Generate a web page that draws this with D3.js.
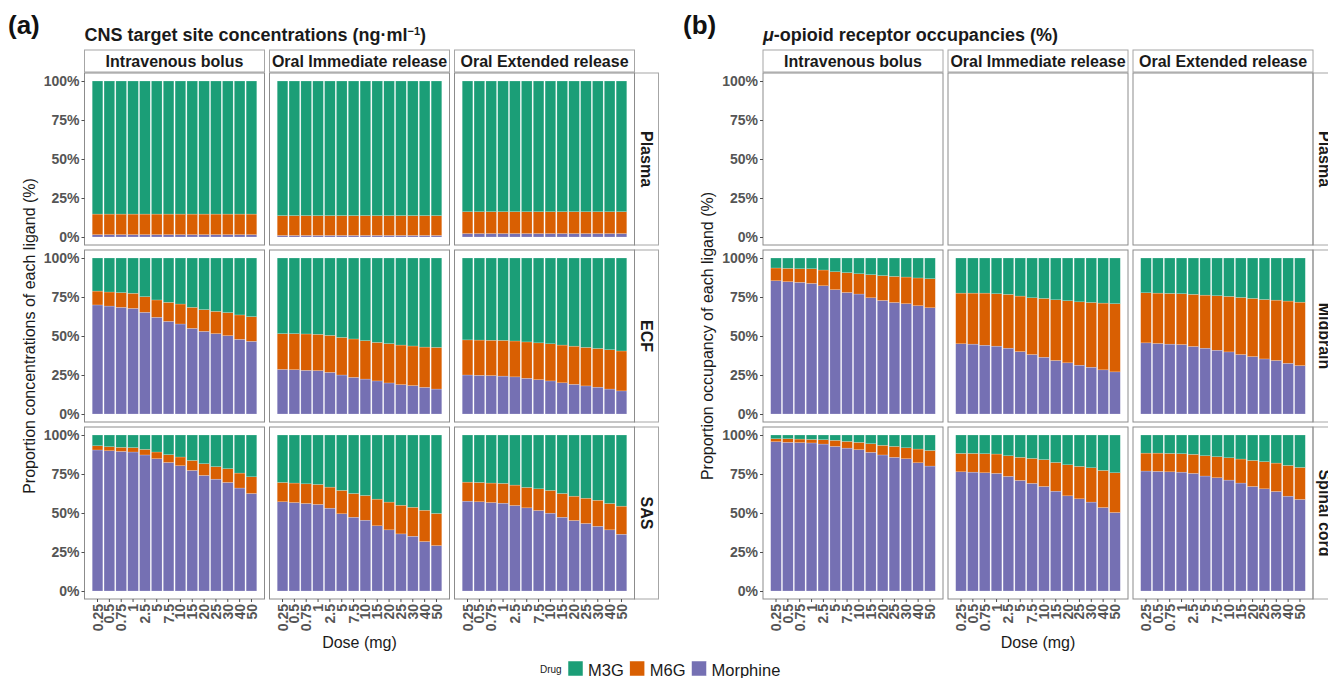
<!DOCTYPE html>
<html>
<head>
<meta charset="utf-8">
<script src="https://cdn.jsdelivr.net/npm/d3@7"></script>
<style>
  body { margin: 0; background: #fff; }
  text { font-family: "Liberation Sans", Arial, Helvetica, sans-serif; }
</style>
</head>
<body>
<svg id="chart" width="1328" height="678"></svg>
<script>
// Categories
const doses = ["0.25", "0.5", "0.75", "1", "2.5", "5", "7.5", "10", "15", "20", "25", "30", "40", "50"];
const routes = ["Intravenous bolus", "Oral Immediate release", "Oral Extended release"];
const drugs = ["M3G", "M6G", "Morphine"];
const drugColors = ["#1b9e77", "#d95f02", "#7570b3"];
const sitesA = ["Plasma", "ECF", "SAS"];
const sitesB = ["Plasma", "Midbrain", "Spinal cord"];
const yTicks = [0, 0.25, 0.5, 0.75, 1];

// (a) CNS target site concentrations: share of Morphine and M6G (%), M3G is the rest
const plasmaIvMorphine = [1.5, 1.5, 1.5, 1.5, 1.5, 1.5, 1.5, 1.5, 1.5, 1.5, 1.5, 1.5, 1.5, 1.5];
const plasmaIvM6G      = [13.2, 13.2, 13.2, 13.2, 13.2, 13.2, 13.2, 13.2, 13.2, 13.2, 13.2, 13.2, 13.2, 13.2];
const plasmaIrMorphine = [1.0, 1.0, 1.0, 1.0, 1.0, 1.0, 1.0, 1.0, 1.0, 1.0, 1.0, 1.0, 1.0, 1.0];
const plasmaIrM6G      = [12.7, 12.7, 12.7, 12.7, 12.7, 12.7, 12.7, 12.7, 12.7, 12.7, 12.7, 12.7, 12.7, 12.7];
const plasmaErMorphine = [2.2, 2.2, 2.2, 2.2, 2.2, 2.2, 2.2, 2.2, 2.2, 2.2, 2.2, 2.2, 2.2, 2.2];
const plasmaErM6G      = [14.0, 14.0, 14.0, 14.0, 14.0, 14.0, 14.0, 14.0, 14.0, 14.0, 14.0, 14.0, 14.0, 14.0];

const ecfIvMorphine = [69.9, 69.2, 68.4, 67.7, 65.2, 62.0, 59.4, 57.7, 54.9, 53.0, 51.5, 50.2, 47.9, 46.6];
const ecfIvM6G      = [8.9, 9.0, 9.4, 9.7, 10.0, 11.1, 12.2, 12.8, 13.5, 13.9, 14.3, 14.8, 15.6, 15.8];
const ecfIrMorphine = [28.6, 28.4, 28.0, 27.8, 26.7, 25.0, 23.5, 22.4, 21.2, 19.9, 18.8, 18.2, 17.1, 16.0];
const ecfIrM6G      = [22.9, 23.1, 23.3, 23.3, 23.7, 24.1, 24.6, 24.6, 24.7, 25.2, 25.4, 25.4, 25.8, 26.7];
const ecfErMorphine = [25.0, 24.8, 24.6, 24.3, 23.8, 22.9, 22.0, 21.2, 20.0, 19.0, 18.0, 17.2, 16.0, 14.8];
const ecfErM6G      = [22.5, 22.6, 22.7, 22.9, 23.0, 23.3, 23.6, 23.8, 24.2, 24.5, 24.7, 24.8, 25.2, 25.6];

const sasIvMorphine = [90.4, 89.9, 89.5, 89.1, 87.2, 84.8, 82.4, 80.3, 77.3, 74.1, 71.7, 69.6, 66.0, 62.5];
const sasIvM6G      = [2.7, 2.6, 2.6, 2.8, 3.6, 4.3, 5.0, 5.6, 6.4, 7.5, 8.0, 8.8, 9.6, 10.7];
const sasIrMorphine = [57.2, 56.7, 56.1, 55.5, 53.1, 49.5, 47.3, 45.4, 41.8, 39.2, 36.6, 35.1, 31.7, 29.1];
const sasIrM6G      = [12.4, 12.5, 12.6, 12.8, 13.5, 15.0, 15.2, 15.8, 17.1, 17.8, 18.4, 18.6, 20.1, 20.6];
const sasErMorphine = [57.6, 57.2, 56.7, 56.3, 54.8, 53.3, 51.6, 49.9, 47.3, 45.2, 43.3, 41.5, 39.2, 36.4];
const sasErM6G      = [12.2, 12.4, 12.5, 12.7, 13.1, 13.1, 13.9, 14.6, 15.2, 15.6, 16.2, 16.7, 16.9, 18.0];

// (b) mu-opioid receptor occupancies (no plasma data)
const midIvMorphine = [85.4, 84.8, 84.4, 83.7, 82.2, 79.7, 77.9, 76.9, 74.5, 72.8, 71.5, 70.7, 69.4, 68.1];
const midIvM6G      = [8.2, 8.6, 8.7, 9.4, 10.1, 11.5, 12.7, 13.0, 14.8, 15.9, 16.7, 17.1, 17.8, 18.6];
const midIrMorphine = [45.0, 44.8, 44.1, 43.5, 42.2, 40.0, 38.1, 36.4, 34.3, 32.8, 31.3, 30.0, 28.3, 27.0];
const midIrM6G      = [32.5, 32.7, 33.4, 33.6, 34.5, 35.6, 36.4, 37.7, 38.9, 39.8, 40.6, 41.5, 42.8, 43.7];
const midErMorphine = [45.6, 45.2, 44.8, 44.5, 43.3, 42.2, 40.9, 39.8, 38.1, 36.8, 35.3, 34.3, 32.5, 31.0];
const midErM6G      = [32.1, 32.3, 32.5, 32.6, 33.4, 34.0, 34.9, 35.6, 36.6, 37.3, 38.1, 38.7, 39.9, 40.7];

const spinIvMorphine = [95.7, 95.3, 95.1, 94.9, 94.2, 92.7, 91.6, 90.6, 88.9, 87.2, 85.7, 84.8, 82.2, 80.1];
const spinIvM6G      = [1.9, 2.3, 2.3, 2.3, 2.8, 3.9, 4.3, 4.7, 5.5, 6.2, 7.0, 7.0, 8.8, 10.0];
const spinIrMorphine = [76.4, 76.2, 75.8, 75.4, 73.5, 70.9, 69.0, 67.0, 64.0, 61.0, 59.1, 57.0, 53.5, 50.3];
const spinIrM6G      = [11.8, 12.0, 12.2, 12.4, 13.2, 14.8, 16.0, 17.2, 18.4, 19.9, 20.8, 22.0, 23.8, 25.5];
const spinErMorphine = [76.9, 76.7, 76.4, 76.2, 75.4, 73.7, 72.6, 71.1, 69.2, 67.0, 65.5, 63.8, 60.8, 58.7];
const spinErM6G      = [11.5, 11.7, 11.8, 11.8, 12.2, 13.0, 13.5, 14.3, 15.4, 16.7, 17.4, 18.2, 19.7, 20.5];

// facets[row][col] = [morphine, m6g] or null
const facetsA = [
  [[plasmaIvMorphine, plasmaIvM6G], [plasmaIrMorphine, plasmaIrM6G], [plasmaErMorphine, plasmaErM6G]],
  [[ecfIvMorphine, ecfIvM6G], [ecfIrMorphine, ecfIrM6G], [ecfErMorphine, ecfErM6G]],
  [[sasIvMorphine, sasIvM6G], [sasIrMorphine, sasIrM6G], [sasErMorphine, sasErM6G]]
];
const facetsB = [
  [null, null, null],
  [[midIvMorphine, midIvM6G], [midIrMorphine, midIrM6G], [midErMorphine, midErM6G]],
  [[spinIvMorphine, spinIvM6G], [spinIrMorphine, spinIrM6G], [spinErMorphine, spinErM6G]]
];

// Layout
const rowTop = [73, 250, 427];
const panelH = 172;
const colW = 180;
const stripTop = 50, stripH = 22, rowStripW = 24;
const panelStroke = "#8c8c8c";
const stripStroke = "#a6a6a6";

const svg = d3.select("#chart");
const color = d3.scaleOrdinal().domain(drugs).range(drugColors);
const stack = d3.stack().keys(["Morphine", "M6G", "M3G"]);

const drawFigure = (opt) => {
  const g = svg.append("g");

  g.append("text").attr("x", opt.tagX).attr("y", 34)
    .attr("font-size", 26).attr("font-weight", "bold").attr("fill", "#111")
    .text(opt.tag);

  const title = g.append("text").attr("x", opt.colX[0]).attr("y", 41)
    .attr("font-size", 18).attr("font-weight", "bold").attr("fill", "#1a1a1a");
  opt.title(title);

  // column strips
  opt.colX.forEach((cx, c) => {
    g.append("rect").attr("x", cx).attr("y", stripTop).attr("width", colW).attr("height", stripH)
      .attr("fill", "#fff").attr("stroke", stripStroke);
    g.append("text").attr("x", cx + colW / 2).attr("y", stripTop + 17)
      .attr("text-anchor", "middle").attr("font-size", 16).attr("font-weight", "bold")
      .attr("fill", "#1a1a1a").text(routes[c]);
  });

  const lastX = opt.colX[2] + colW;

  rowTop.forEach((top, r) => {
    const y = d3.scaleLinear().domain([0, 1]).range([top + panelH - 8, top + 8]);

    // row strip
    g.append("rect").attr("x", lastX).attr("y", top).attr("width", rowStripW).attr("height", panelH)
      .attr("fill", "#fff").attr("stroke", stripStroke);
    g.append("text")
      .attr("transform", `translate(${lastX + rowStripW / 2},${top + panelH / 2}) rotate(90)`)
      .attr("text-anchor", "middle").attr("dy", "0.35em")
      .attr("font-size", 16).attr("font-weight", "bold").attr("fill", "#1a1a1a")
      .text(opt.sites[r]);

    opt.colX.forEach((cx, c) => {
      const x = d3.scaleBand().domain(doses).range([cx, cx + colW])
        .paddingInner(0.1).paddingOuter(0.65);

      const facet = opt.facets[r][c];
      if (facet) {
        const rows = doses.map((d, i) => ({
          dose: d,
          Morphine: facet[0][i] / 100,
          M6G: facet[1][i] / 100,
          M3G: (100 - facet[0][i] - facet[1][i]) / 100
        }));
        const series = stack(rows);
        g.append("g").selectAll("g")
          .data(series)
          .join("g")
          .attr("fill", s => color(s.key))
          .selectAll("rect")
          .data(s => s)
          .join("rect")
          .attr("x", d => x(d.data.dose))
          .attr("width", x.bandwidth())
          .attr("y", d => y(d[1]))
          .attr("height", d => y(d[0]) - y(d[1]))
          .attr("stroke", "#fff")
          .attr("stroke-opacity", 0.5)
          .attr("stroke-width", 0.4);
      }

      g.append("rect").attr("x", cx).attr("y", top).attr("width", colW).attr("height", panelH)
        .attr("fill", "none").attr("stroke", panelStroke);

      // y axis on first column
      if (c === 0) {
        const ax = g.append("g").attr("transform", `translate(${cx},0)`)
          .call(d3.axisLeft(y).tickValues(yTicks).tickFormat(d3.format(".0%")).tickSize(3).tickPadding(2));
        styleAxis(ax);
      }

      // x axis on bottom row
      if (r === 2) {
        const ax = g.append("g").attr("transform", `translate(0,${top + panelH})`)
          .call(d3.axisBottom(x).tickSize(3).tickPadding(2));
        styleAxis(ax);
        ax.selectAll("text")
          .attr("transform", "rotate(-90)")
          .attr("text-anchor", "end")
          .attr("x", -5).attr("y", 0).attr("dy", "0.36em");
      }
    });
  });

  // axis titles
  g.append("text")
    .attr("transform", `translate(${opt.yTitleX},${rowTop[0] + (rowTop[2] + panelH - rowTop[0]) / 2}) rotate(-90)`)
    .attr("text-anchor", "middle").attr("font-size", 16).attr("fill", "#1a1a1a")
    .text(opt.yTitle);

  g.append("text").attr("x", (opt.colX[0] + lastX) / 2).attr("y", 648)
    .attr("text-anchor", "middle").attr("font-size", 16).attr("fill", "#1a1a1a")
    .text("Dose (mg)");
};

function styleAxis(ax) {
  ax.select(".domain").remove();
  ax.selectAll(".tick line").attr("stroke", "#4d4d4d");
  ax.selectAll(".tick text")
    .attr("font-size", 14).attr("font-weight", "bold").attr("fill", "#555")
    .style("font-family", '"Liberation Sans", Arial, sans-serif');
}

drawFigure({
  tag: "(a)", tagX: 8,
  colX: [84.5, 269.5, 454.5],
  sites: sitesA, facets: facetsA,
  yTitle: "Proportion concentrations of each ligand (%)", yTitleX: 35,
  title: t => {
    t.append("tspan").text("CNS target site concentrations (ng·ml");
    t.append("tspan").attr("font-size", 11).attr("dy", -6).text("−1");
    t.append("tspan").attr("dy", 6).text(")");
  }
});

drawFigure({
  tag: "(b)", tagX: 683,
  colX: [763, 948, 1133],
  sites: sitesB, facets: facetsB,
  yTitle: "Proportion occupancy of each ligand (%)", yTitleX: 713,
  title: t => {
    t.append("tspan").attr("font-style", "italic").text("μ");
    t.append("tspan").text("-opioid receptor occupancies (%)");
  }
});

// legend
const legend = svg.append("g").attr("transform", "translate(540,0)");
legend.append("text").attr("x", 0).attr("y", 673).attr("font-size", 10).attr("fill", "#1a1a1a").text("Drug");
let lx = 28;
drugs.forEach(d => {
  legend.append("rect").attr("x", lx).attr("y", 661).attr("width", 15).attr("height", 15)
    .attr("fill", color(d)).attr("stroke", "#fff").attr("stroke-width", 0.5);
  const t = legend.append("text").attr("x", lx + 20).attr("y", 676)
    .attr("font-size", 16.5).attr("fill", "#1a1a1a").text(d);
  lx += 20 + t.node().getComputedTextLength() + 6;
});
</script>
</body>
</html>
